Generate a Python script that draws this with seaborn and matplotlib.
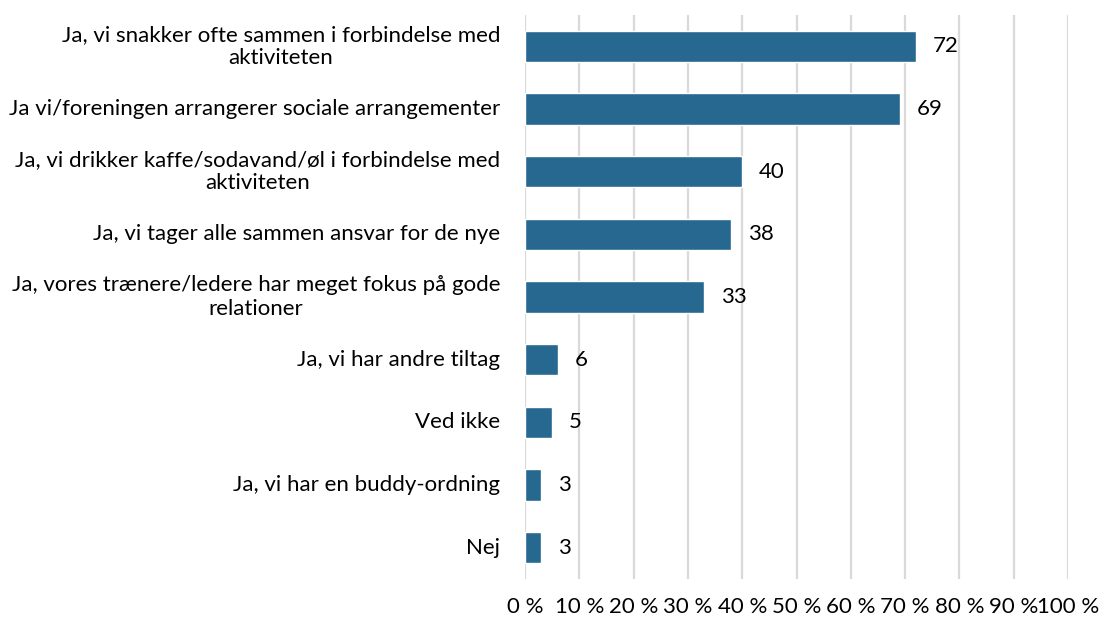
import matplotlib
matplotlib.use("Agg")
import matplotlib.pyplot as plt
import matplotlib.transforms as mtransforms
import seaborn as sns
import pandas as pd

categories = [
    "Ja, vi snakker ofte sammen i forbindelse med\naktiviteten",
    "Ja vi/foreningen arrangerer sociale arrangementer",
    "Ja, vi drikker kaffe/sodavand/øl i forbindelse med\naktiviteten",
    "Ja, vi tager alle sammen ansvar for de nye",
    "Ja, vores trænere/ledere har meget fokus på gode\nrelationer",
    "Ja, vi har andre tiltag",
    "Ved ikke",
    "Ja, vi har en buddy-ordning",
    "Nej",
]
values = [72, 69, 40, 38, 33, 6, 5, 3, 3]
x_ticks = list(range(0, 101, 10))
x_tick_labels = [f"{t} %" for t in x_ticks]

bar_color = "#276891"
grid_color = "#d9d9d9"
fs = 16

sns.set_theme(style="white")
plt.rcParams["font.family"] = ["Lato", "DejaVu Sans"]
plt.rcParams["text.color"] = "black"
plt.rcParams["xtick.color"] = "black"
plt.rcParams["ytick.color"] = "black"

df = pd.DataFrame({"category": categories, "value": values})

fig = plt.figure(figsize=(11, 6.19), dpi=100)
ax = fig.add_axes([0.4773, 0.0646, 0.4936, 0.9112])

sns.barplot(data=df, x="value", y="category", orient="h", color=bar_color,
            width=0.5, saturation=1, ax=ax, zorder=3)

ax.set_xlim(0, 100)
ax.set_ylim(len(categories) - 0.5, -0.5)
ax.set_xticks(x_ticks)
ax.set_xticklabels(x_tick_labels, fontsize=fs, color="black")
ax.set_yticks(range(len(categories)))
ax.set_yticklabels([])
ax.set_xlabel("")
ax.set_ylabel("")

ax.tick_params(axis="y", length=0)
ax.tick_params(axis="x", length=0, pad=13)

# category labels: right-aligned block, centred lines
label_tf = ax.get_yaxis_transform() + mtransforms.ScaledTranslation(
    -18 / 72, 0, fig.dpi_scale_trans)
for i, cat in enumerate(categories):
    ax.text(0, i, cat, transform=label_tf, ha="right", va="center",
            multialignment="center", linespacing=1.2, fontsize=fs,
            color="black")

for t in x_ticks:
    ax.axvline(t, color=grid_color, linewidth=1.6, zorder=0)

for sp in ax.spines.values():
    sp.set_visible(False)

for i, v in enumerate(values):
    ax.annotate(f"{v}", xy=(v, i), xytext=(12, 0), textcoords="offset points",
                ha="left", va="center", fontsize=fs, color="black")

fig.savefig("out.png", dpi=100)
